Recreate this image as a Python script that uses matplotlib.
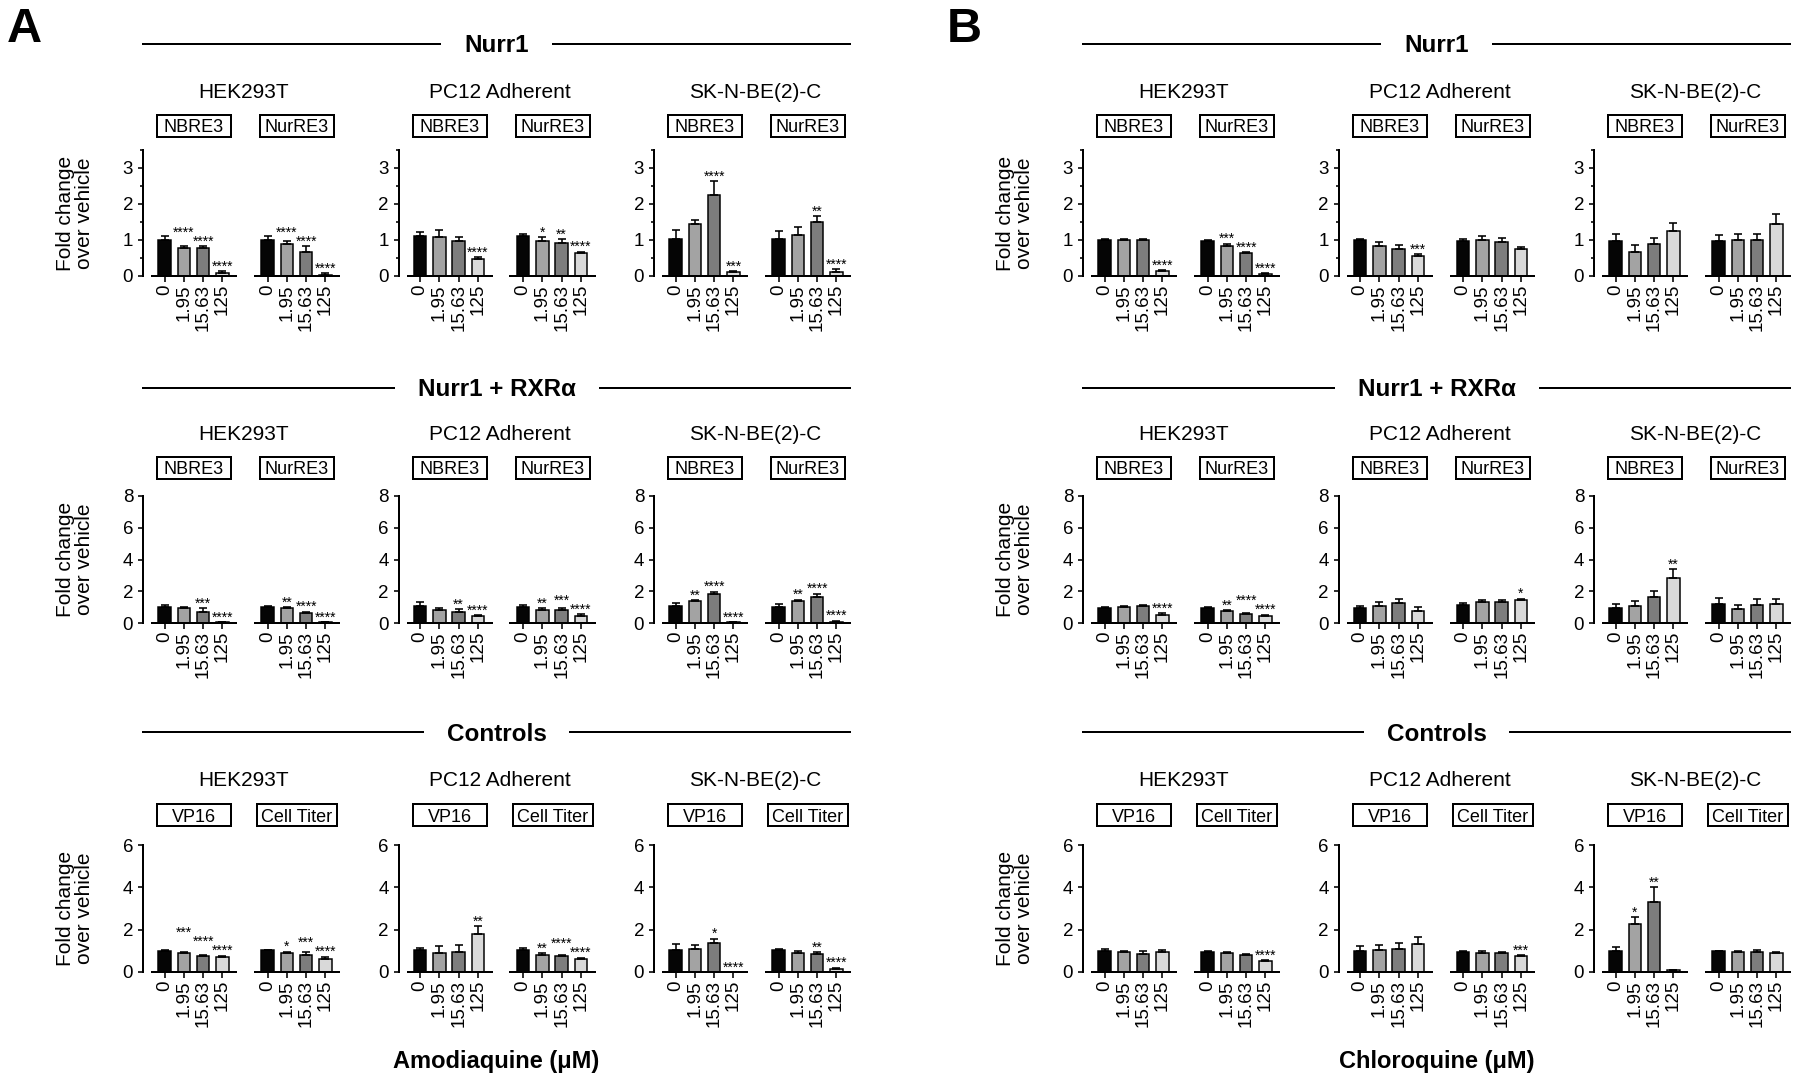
import numpy as np
import matplotlib
matplotlib.use('Agg')
import matplotlib.pyplot as plt
from matplotlib.patches import Rectangle
from matplotlib.lines import Line2D

# ---------------- data ----------------
DOSES = ['0', '1.95', '15.63', '125']
CELL_LINES = ['HEK293T', 'PC12 Adherent', 'SK-N-BE(2)-C']
ROW_TITLES = ['Nurr1', 'Nurr1 + RXRα', 'Controls']
ROW_ASSAYS = [['NBRE3', 'NurRE3'], ['NBRE3', 'NurRE3'], ['VP16', 'Cell Titer']]
ROW_YMAX = [3.5, 8, 6]
ROW_YTICKS = [[0, 1, 2, 3], [0, 2, 4, 6, 8], [0, 2, 4, 6]]
ROW_YMINOR = [[0.5, 1.5, 2.5, 3.5], [], []]
DRUGS = ['Amodiaquine (μM)', 'Chloroquine (μM)']
PANEL_LETTERS = ['A', 'B']
YLABEL = 'Fold change\nover vehicle'
BAR_COLORS = ['#050505', '#a3a3a3', '#7d7d7d', '#d9d9d9']

# order of groups: HEK (assay1, assay2), PC12 (assay1, assay2), SK (assay1, assay2)
A_NURR1_MEAN = [[1.00, 0.78, 0.78, 0.08], [1.00, 0.90, 0.68, 0.04],
                [1.10, 1.07, 0.98, 0.47], [1.10, 0.97, 0.92, 0.63],
                [1.04, 1.44, 2.25, 0.10], [1.04, 1.13, 1.49, 0.10]]
A_NURR1_SEM = [[0.10, 0.04, 0.04, 0.05], [0.10, 0.08, 0.15, 0.03],
               [0.11, 0.20, 0.09, 0.06], [0.08, 0.10, 0.11, 0.05],
               [0.25, 0.12, 0.38, 0.04], [0.20, 0.22, 0.18, 0.09]]
A_NURR1_SIG = [['', '****', '****', '****'], ['', '****', '****', '****'],
               ['', '', '', '****'], ['', '*', '**', '****'],
               ['', '', '****', '***'], ['', '', '**', '****']]

A_RXR_MEAN = [[1.00, 0.92, 0.70, 0.04], [1.00, 0.92, 0.63, 0.04],
              [1.05, 0.84, 0.67, 0.42], [1.00, 0.84, 0.80, 0.46],
              [1.06, 1.36, 1.85, 0.04], [1.02, 1.36, 1.65, 0.08]]
A_RXR_SEM = [[0.13, 0.07, 0.25, 0.03], [0.09, 0.08, 0.08, 0.03],
             [0.25, 0.08, 0.20, 0.08], [0.13, 0.08, 0.12, 0.08],
             [0.22, 0.08, 0.13, 0.02], [0.17, 0.12, 0.20, 0.06]]
A_RXR_SIG = [['', '', '***', '****'], ['', '**', '****', '****'],
             ['', '', '**', '****'], ['', '**', '***', '****'],
             ['', '**', '****', '****'], ['', '**', '****', '****']]

A_CTRL_MEAN = [[0.98, 0.88, 0.76, 0.71], [1.03, 0.88, 0.81, 0.63],
               [1.04, 0.92, 0.96, 1.79], [1.04, 0.82, 0.74, 0.60],
               [1.04, 1.10, 1.36, 0.01], [1.04, 0.92, 0.87, 0.16]]
A_CTRL_SEM = [[0.06, 0.07, 0.06, 0.06], [0.01, 0.08, 0.12, 0.10],
              [0.11, 0.31, 0.30, 0.39], [0.10, 0.06, 0.07, 0.08],
              [0.27, 0.18, 0.22, 0.00], [0.06, 0.06, 0.08, 0.04]]
A_CTRL_SIG = [['', '***', '****', '****'], ['', '*', '***', '****'],
              ['', '', '', '**'], ['', '**', '****', '****'],
              ['', '', '*', '****'], ['', '', '**', '****']]

B_NURR1_MEAN = [[1.00, 1.00, 1.00, 0.14], [0.97, 0.84, 0.64, 0.06],
                [0.99, 0.83, 0.76, 0.56], [0.96, 1.01, 0.95, 0.76],
                [0.98, 0.68, 0.88, 1.25], [0.96, 1.00, 1.00, 1.44]]
B_NURR1_SEM = [[0.04, 0.04, 0.04, 0.03], [0.03, 0.05, 0.03, 0.02],
               [0.03, 0.12, 0.09, 0.04], [0.08, 0.11, 0.11, 0.05],
               [0.20, 0.17, 0.17, 0.21], [0.19, 0.18, 0.18, 0.27]]
B_NURR1_SIG = [['', '', '', '****'], ['', '***', '****', '****'],
               ['', '', '', '***'], ['', '', '', ''],
               ['', '', '', ''], ['', '', '', '']]

B_RXR_MEAN = [[0.94, 0.98, 1.04, 0.53], [0.94, 0.77, 0.56, 0.46],
              [0.94, 1.08, 1.25, 0.77], [1.14, 1.35, 1.31, 1.43],
              [0.97, 1.07, 1.63, 2.83], [1.18, 0.87, 1.16, 1.18]]
B_RXR_SEM = [[0.06, 0.06, 0.10, 0.08], [0.06, 0.06, 0.06, 0.06],
             [0.14, 0.27, 0.25, 0.21], [0.11, 0.11, 0.15, 0.11],
             [0.25, 0.31, 0.37, 0.58], [0.41, 0.27, 0.33, 0.31]]
B_RXR_SIG = [['', '', '', '****'], ['', '**', '****', '****'],
             ['', '', '', ''], ['', '', '', '*'],
             ['', '', '', '**'], ['', '', '', '']]

B_CTRL_MEAN = [[1.00, 0.94, 0.85, 0.94], [0.94, 0.90, 0.82, 0.51],
               [1.01, 1.04, 1.09, 1.32], [0.93, 0.90, 0.89, 0.75],
               [0.98, 2.25, 3.33, 0.08], [0.98, 0.95, 0.95, 0.88]]
B_CTRL_SEM = [[0.07, 0.06, 0.12, 0.11], [0.06, 0.06, 0.05, 0.05],
              [0.20, 0.24, 0.28, 0.35], [0.07, 0.07, 0.04, 0.06],
              [0.18, 0.34, 0.67, 0.03], [0.02, 0.04, 0.09, 0.05]]
B_CTRL_SIG = [['', '', '', ''], ['', '', '', '****'],
              ['', '', '', ''], ['', '', '', '***'],
              ['', '*', '**', ''], ['', '', '', '']]

PANEL_DATA = [
    [(A_NURR1_MEAN, A_NURR1_SEM, A_NURR1_SIG),
     (A_RXR_MEAN, A_RXR_SEM, A_RXR_SIG),
     (A_CTRL_MEAN, A_CTRL_SEM, A_CTRL_SIG)],
    [(B_NURR1_MEAN, B_NURR1_SEM, B_NURR1_SIG),
     (B_RXR_MEAN, B_RXR_SEM, B_RXR_SIG),
     (B_CTRL_MEAN, B_CTRL_SEM, B_CTRL_SIG)],
]

# ---------------- layout (pixels) ----------------
W, H, DPI = 1800, 1084, 100
PX = 72.0 / DPI  # points per pixel
plt.rcParams['font.family'] = ['Liberation Sans', 'DejaVu Sans']

fig = plt.figure(figsize=(W / DPI, H / DPI), dpi=DPI)
fig.patch.set_facecolor('white')

PANEL_X0 = [143, 1083]
CELL_STEP = 255.5
GROUP_OFF = [9, 112]
GROUP_W = 84
XLIM = (-0.65, 3.7)
PITCH = GROUP_W / (XLIM[1] - XLIM[0])
ROWS = [  # top, zero, title baseline, box centre, header line, header baseline
    dict(top=150, zero=276, title=98, box=126, hline=43.5, hbase=52.5),
    dict(top=496, zero=623, title=440, box=468, hline=387.5, hbase=396.5),
    dict(top=845, zero=972, title=786.5, box=815, hline=732, hbase=741),
]
LW = 2.0 * PX
TICK_FS = 13.5
STAR_FS = 10
STAR_W = 0.389 * STAR_FS / PX
STACK_H = 9.0


def fx(x):
    return x / W


def fy(y):
    return 1 - y / H


renderer = fig.canvas.get_renderer()

for p in range(2):
    x0 = PANEL_X0[p]
    span_l = x0
    span_r = x0 + 2 * CELL_STEP + GROUP_OFF[1] + GROUP_W
    cx = (span_l + span_r) / 2
    # panel letter
    fig.text(fx(x0 - 136), fy(42), PANEL_LETTERS[p], fontsize=35, fontweight='bold',
             ha='left', va='baseline')
    # drug label
    fig.text(fx(cx), fy(1068), DRUGS[p], fontsize=17, fontweight='bold',
             ha='center', va='baseline')
    for r in range(3):
        R = ROWS[r]
        means_all, sems_all, sigs_all = PANEL_DATA[p][r]
        # header
        t = fig.text(fx(cx), fy(R['hbase']), ROW_TITLES[r], fontsize=17.5,
                     fontweight='bold', ha='center', va='baseline')
        bb = t.get_window_extent(renderer)
        gap = 24
        fig.add_artist(Line2D([fx(span_l), fx(bb.x0 - gap)], [fy(R['hline'])] * 2,
                              color='black', lw=LW))
        fig.add_artist(Line2D([fx(bb.x1 + gap), fx(span_r)], [fy(R['hline'])] * 2,
                              color='black', lw=LW))
        # y label
        fig.text(fx(x0 - 68), fy((R['top'] + R['zero']) / 2), YLABEL, fontsize=15,
                 rotation=90, ha='center', va='center', multialignment='center',
                 linespacing=1.0)
        ppu = (R['zero'] - R['top']) / ROW_YMAX[r]
        for c in range(3):
            S = x0 + c * CELL_STEP
            fig.text(fx(S + 101), fy(R['title']), CELL_LINES[c], fontsize=15,
                     ha='center', va='baseline')
            for g in range(2):
                gi = c * 2 + g
                left = S + GROUP_OFF[g]
                gcx = left + GROUP_W / 2
                # assay box
                label = ROW_ASSAYS[r][g]
                bw = 80 if label == 'Cell Titer' else 74
                bh = 22
                fig.add_artist(Rectangle((fx(gcx - bw / 2), fy(R['box'] + bh / 2)),
                                         bw / W, bh / H, transform=fig.transFigure,
                                         fill=False, edgecolor='black', lw=LW))
                fig.text(fx(gcx), fy(R['box']), label, fontsize=13, ha='center',
                         va='center_baseline')
                ax = fig.add_axes([fx(left), fy(R['zero']), GROUP_W / W,
                                   (R['zero'] - R['top']) / H])
                ax.patch.set_visible(False)
                means = np.array(means_all[gi])
                sems = np.array(sems_all[gi])
                sigs = sigs_all[gi]
                x = np.arange(len(DOSES))
                ax.bar(x, means, width=0.64, color=BAR_COLORS, edgecolor='black',
                       linewidth=1.5 * PX, zorder=2)
                ax.errorbar(x, means, yerr=[np.zeros_like(sems), sems], fmt='none',
                            ecolor='black', elinewidth=1.6 * PX, capsize=2.9,
                            capthick=1.6 * PX, zorder=3)
                ax.set_xlim(*XLIM)
                ax.set_ylim(0, ROW_YMAX[r])
                for s in ['top', 'right']:
                    ax.spines[s].set_visible(False)
                ax.spines['bottom'].set_linewidth(LW)
                ax.set_xticks(x)
                ax.set_xticklabels(DOSES, rotation=90, fontsize=TICK_FS,
                                   ha='center', va='top')
                ax.tick_params(axis='x', length=6 * PX, width=1.6 * PX, pad=1.5)
                if g == 0:
                    ax.spines['left'].set_linewidth(LW)
                    ax.spines['left'].set_position(('outward', 9 * PX))
                    ax.set_yticks(ROW_YTICKS[r])
                    ax.set_yticklabels([str(v) for v in ROW_YTICKS[r]],
                                       fontsize=TICK_FS)
                    if ROW_YMINOR[r]:
                        ax.set_yticks(ROW_YMINOR[r], minor=True)
                    ax.tick_params(axis='y', which='major', length=5 * PX,
                                   width=1.6 * PX, pad=3.5)
                    ax.tick_params(axis='y', which='minor', length=3 * PX,
                                   width=1.6 * PX)
                else:
                    ax.spines['left'].set_visible(False)
                    ax.set_yticks([])
                # significance stars, stacked when neighbours collide
                tops = (means + sems) * ppu
                ys = list(tops)
                for i in range(len(sigs) - 2, -1, -1):
                    if sigs[i] and sigs[i + 1]:
                        wi = len(sigs[i]) * STAR_W
                        wj = len(sigs[i + 1]) * STAR_W
                        if (wi + wj) / 2 > PITCH - 1 and abs(ys[i] - ys[i + 1]) < STACK_H:
                            ys[i] = ys[i + 1] + STACK_H
                for i, s in enumerate(sigs):
                    if not s:
                        continue
                    off = (ys[i] - tops[i] + 0.5) * PX
                    ax.annotate(s, xy=(i, means[i] + sems[i]), xytext=(0, off),
                                textcoords='offset points', ha='center',
                                va='baseline', fontsize=STAR_FS, annotation_clip=False)

fig.savefig('out.png', dpi=DPI, facecolor='white')
